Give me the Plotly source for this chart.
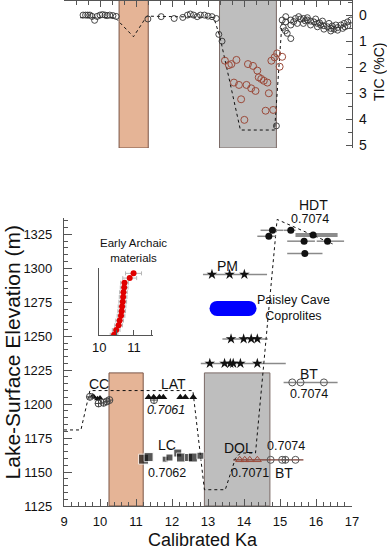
import plotly.graph_objects as go

FONT = "Arial, Liberation Sans, sans-serif"

# ---------------- Top panel: TIC (%C) ----------------
tic_black_x = [9.53, 9.60, 9.66, 9.72, 9.78, 9.85, 9.92, 10.0, 10.07, 10.14, 10.2, 10.27, 10.36, 10.45,
               11.33, 11.70, 12.06, 12.30, 12.43, 12.51, 12.60, 12.70, 12.79, 12.90, 13.00, 13.11, 13.23,
               13.30, 13.39, 14.90, 15.09, 15.15, 15.20, 15.30,
               15.06, 15.16, 15.30, 15.43, 15.57, 15.65, 15.76, 15.85, 15.94, 16.04, 16.13, 16.22, 16.32,
               16.41, 16.50, 16.60, 16.69, 16.78, 16.88, 16.97,
               15.30, 15.48, 15.65, 15.85, 16.04, 16.22, 16.41, 16.60, 16.74, 16.88,
               15.16, 15.52, 15.76, 15.99, 16.18, 16.36, 16.55, 15.38, 15.70, 16.10, 16.45, 16.80]
tic_black_y = [0.0, 0.0, 0.0, 0.0, 0.05, 0.2, 0.05, 0.0, -0.02, 0.0, 0.02, 0.0, 0.02, 0.05,
               0.15, 0.06, 0.13, 0.09, 0.0, -0.04, 0.0, 0.06, 0.0, 0.0, 0.04, 0.06, 0.13,
               0.74, 1.0, 4.25, 0.47, 0.6, 0.7, 0.9,
               0.19, 0.26, 0.19, 0.13, 0.15, 0.13, 0.19, 0.23, 0.26, 0.32, 0.38, 0.41, 0.45,
               0.51, 0.54, 0.48, 0.38, 0.32, 0.26, 0.19,
               0.38, 0.32, 0.32, 0.38, 0.45, 0.54, 0.61, 0.58, 0.51, 0.41,
               0.06, 0.06, 0.10, 0.15, 0.23, 0.32, 0.38, 0.25, 0.22, 0.30, 0.42, 0.45]
tic_brown_x = [13.47, 13.58, 13.65, 13.79, 13.72, 13.86, 13.92, 14.01, 14.11, 14.25, 14.37, 14.07,
               14.20, 14.32, 14.41, 14.48, 14.55, 14.65, 14.69, 14.60, 14.76, 14.81, 14.85, 14.92,
               14.99, 15.06]
tic_brown_y = [1.75, 1.92, 1.88, 1.72, 2.59, 2.68, 3.23, 4.02, 1.88, 1.95, 2.13, 2.68,
               2.81, 2.91, 2.39, 2.45, 2.52, 2.59, 3.0, 3.67, 1.75, 3.64, 1.62, 1.47,
               1.98, 1.6]
tic_model_x = [9.45, 10.42, 10.93, 11.3, 13.16, 13.33, 13.9, 14.85, 15.06]
tic_model_y = [0.1, 0.1, 0.83, 0.04, 0.09, 0.83, 4.41, 4.41, 0.19]

# shaded intervals (x0, x1) in each panel
top_orange = [10.53, 11.34]
top_gray = [13.32, 14.90]
bot_orange = [10.25, 11.20]
bot_gray = [12.90, 14.72]
band_top_elev = 1223
band_bottom_tic = 5.1

# ---------------- Bottom panel: lake level ----------------
lake_model_x = [9.0, 9.47, 9.72, 12.58, 12.9, 13.48, 13.76, 13.9, 14.32, 14.53, 14.92, 16.46]
lake_model_y = [1181, 1181, 1210, 1210, 1137, 1137, 1160, 1164, 1164, 1223, 1336, 1318]

hdt_x = [14.79, 15.30, 14.69, 15.67, 16.32, 15.69, 15.92]
hdt_y = [1328, 1328, 1323.6, 1320, 1320, 1311, 1324.6]
hdt_err_minus = [0.33, 0.20, 0.32, 0.47, 0.30, 0.49, 0.0]
hdt_err_plus = [0.30, 0.13, 0.19, 0.30, 0.46, 0.49, 0.0]
hdt_thick_range = [15.43, 16.60]

star_x = [13.11, 13.60, 14.01,
          13.64, 13.99, 14.20, 14.37,
          13.05, 13.46, 13.62, 13.70, 13.90, 14.37]
star_y = [1295.5] * 3 + [1248] * 4 + [1230] * 6
star_rows_y = [1295.5, 1248, 1230]
star_rows_lo = [12.86, 13.40, 12.80]
star_rows_hi = [14.64, 14.66, 15.16]

coprolite_x = [13.25, 14.14]
coprolite_y = [1270.5, 1270.5]

cc_tri_x = [9.80, 9.84, 9.93, 10.0]
cc_tri_y = [1206, 1205, 1204, 1204.5]
cc_circ_x = [9.72, 9.96, 10.10, 10.19, 10.26]
cc_circ_y = [1205.4, 1200.5, 1201, 1202, 1203]

lat_x = [11.35, 11.49, 11.65, 11.76, 12.23, 12.37, 12.59]
lat_y = [1205] * 7
lat_circ_x = [11.50]
lat_circ_y = [1203]

lc_x = [11.21, 11.35, 11.81, 11.93, 12.16, 12.25, 12.46, 12.58, 12.79]
lc_y = [1159.5, 1161, 1159.5, 1160.7, 1164, 1160.7, 1160.7, 1160.7, 1162]
lc_size = [10, 9, 6, 7, 8, 9, 8, 9, 7]

dol_x = [13.88, 14.02, 14.16, 14.37]
dol_y = [1159] * 4
bt_low_x = [14.74, 15.06, 15.15, 15.43]
bt_low_y = [1159] * 4
dol_bt_range = [13.70, 15.65]
dol_bt_elev = 1159

bt_up_x = [15.34, 15.57, 16.22]
bt_up_y = [1216] * 3
bt_up_range = [15.10, 16.60]

# inset: Early Archaic materials
ea_x = [10.43, 10.49, 10.56, 10.59, 10.63, 10.65, 10.66, 10.68, 10.69, 10.70, 10.72, 10.73, 10.88, 10.99]
ea_rank = list(range(1, 15))
ea_err = [0.11, 0.11, 0.11, 0.11, 0.11, 0.11, 0.11, 0.11, 0.11, 0.11, 0.11, 0.11, 0.2, 0.23]

labels = [
    ("HDT", 15.93, 1347, 14, False), ("0.7074", 15.83, 1336, 12.5, False),
    ("PM", 13.55, 1302, 14, False),
    ("CC", 9.98, 1215, 14, False), ("LAT", 12.04, 1215, 14, False),
    ("0.7061", 11.83, 1196, 12.5, True),
    ("LC", 11.86, 1170, 14, False), ("0.7062", 11.86, 1149, 12.5, False),
    ("DOL", 13.85, 1168, 14, False), ("0.7071", 14.18, 1149, 12.5, False),
    ("0.7074", 15.16, 1169, 12.5, False), ("BT", 15.10, 1149.6, 14, False),
    ("BT", 15.80, 1222, 14, False), ("0.7074", 15.80, 1207.5, 12.5, False),
    ("Paisley Cave<br>Coprolites", 15.37, 1271, 12.5, False),
]

ELEV_RANGE = [1125, 1337]
BOT_DOMAIN = [0, 0.569]

BLACK = "#111111"
BROWN = "#9B4A3A"
GRAYBAR = "#8a8a8a"

fig = go.Figure()

# ---- top panel traces
fig.add_trace(go.Scatter(x=tic_model_x, y=tic_model_y, mode="lines", xaxis="x2", yaxis="y2",
                         line=dict(color=BLACK, dash="dot", width=1)))
fig.add_trace(go.Scatter(x=tic_black_x, y=tic_black_y, mode="markers", xaxis="x2", yaxis="y2",
                         marker=dict(symbol="circle-open", size=6, color="#333333", line=dict(width=0.9))))
fig.add_trace(go.Scatter(x=tic_brown_x, y=tic_brown_y, mode="markers", xaxis="x2", yaxis="y2",
                         marker=dict(symbol="circle-open", size=7, color=BROWN, line=dict(width=1))))

# ---- bottom panel traces
def ranges(lo, hi, ys):
    xs, yy = [], []
    for a, b, y in zip(lo, hi, ys):
        xs += [a, b, None]
        yy += [y, y, None]
    return xs, yy

rx, ry = ranges(star_rows_lo, star_rows_hi, star_rows_y)
fig.add_trace(go.Scatter(x=rx, y=ry, mode="lines", line=dict(color=GRAYBAR, width=1.5)))
rx, ry = ranges([bt_up_range[0]], [bt_up_range[1]], [bt_up_y[0]])
fig.add_trace(go.Scatter(x=rx, y=ry, mode="lines", line=dict(color=GRAYBAR, width=1.5)))
rx, ry = ranges([dol_bt_range[0]], [dol_bt_range[1]], [dol_bt_elev])
fig.add_trace(go.Scatter(x=rx, y=ry, mode="lines", line=dict(color="#7a3a30", width=1.3)))
rx, ry = ranges([hdt_thick_range[0]], [hdt_thick_range[1]], [hdt_y[-1]])
fig.add_trace(go.Scatter(x=rx, y=ry, mode="lines", line=dict(color="#8c8c8c", width=4)))

fig.add_trace(go.Scatter(x=lake_model_x, y=lake_model_y, mode="lines",
                         line=dict(color=BLACK, dash="dot", width=1)))

fig.add_trace(go.Scatter(x=hdt_x, y=hdt_y, mode="markers",
                         marker=dict(symbol="circle", size=7, color=BLACK),
                         error_x=dict(type="data", array=hdt_err_plus, arrayminus=hdt_err_minus,
                                      symmetric=False, color=GRAYBAR, thickness=1.5, width=0)))
fig.add_trace(go.Scatter(x=star_x, y=star_y, mode="markers",
                         marker=dict(symbol="star", size=8, color=BLACK)))
fig.add_trace(go.Scatter(x=coprolite_x, y=coprolite_y, mode="lines+markers",
                         line=dict(color="#0000FF", width=15),
                         marker=dict(symbol="circle", size=15, color="#0000FF")))

fig.add_trace(go.Scatter(x=cc_tri_x, y=cc_tri_y, mode="markers",
                         marker=dict(symbol="triangle-up", size=6, color=BLACK)))
fig.add_trace(go.Scatter(x=cc_circ_x + lat_circ_x, y=cc_circ_y + lat_circ_y, mode="markers",
                         marker=dict(symbol="circle-cross-open", size=7, color="#444444", line=dict(width=1))))
fig.add_trace(go.Scatter(x=lat_x, y=lat_y, mode="markers",
                         marker=dict(symbol="triangle-up", size=7, color=BLACK)))
fig.add_trace(go.Scatter(x=lc_x, y=lc_y, mode="markers",
                         marker=dict(symbol="square", size=lc_size, color=BLACK)))
fig.add_trace(go.Scatter(x=dol_x, y=dol_y, mode="markers",
                         marker=dict(symbol="triangle-up-open", size=7, color=BROWN, line=dict(width=1))))
fig.add_trace(go.Scatter(x=bt_low_x, y=bt_low_y, mode="markers",
                         marker=dict(symbol=["circle-open", "circle-open", "circle-cross-open", "circle-open"],
                                     size=7, color="#555555", line=dict(width=1))))
fig.add_trace(go.Scatter(x=bt_up_x, y=bt_up_y, mode="markers",
                         marker=dict(symbol="circle-open", size=7, color="#555555", line=dict(width=1))))

# ---- inset
fig.add_trace(go.Scatter(x=ea_x, y=ea_rank, mode="markers", xaxis="x3", yaxis="y3",
                         marker=dict(symbol="circle", size=6, color="#E00000"),
                         error_x=dict(type="data", array=ea_err, color="#b5b5b5", thickness=1, width=2)))

shapes = []
for (x0, x1), fill, edge in [(top_orange, "#E5B496", "#7a5545"), (top_gray, "#BEBEBE", "#7a6a66")]:
    shapes.append(dict(type="rect", xref="x2", yref="y2", x0=x0, x1=x1, y0=-0.6, y1=band_bottom_tic,
                       fillcolor=fill, line=dict(color=edge, width=1), layer="below"))
for (x0, x1), fill, edge in [(bot_orange, "#E5B496", "#7a5545"), (bot_gray, "#BEBEBE", "#7a6a66")]:
    shapes.append(dict(type="rect", xref="x", yref="y", x0=x0, x1=x1, y0=1125, y1=band_top_elev,
                       fillcolor=fill, line=dict(color=edge, width=1), layer="below"))


def elev_to_paper(e):
    f = (e - ELEV_RANGE[0]) / (ELEV_RANGE[1] - ELEV_RANGE[0])
    return BOT_DOMAIN[0] + f * (BOT_DOMAIN[1] - BOT_DOMAIN[0])


annotations = []
for txt, x, y, sz, it in labels:
    annotations.append(dict(text=("<i>%s</i>" % txt) if it else txt, x=x, y=elev_to_paper(y),
                            xref="x", yref="paper", xanchor="center", yanchor="middle",
                            showarrow=False, font=dict(size=sz, color=BLACK, family=FONT)))
annotations.append(dict(text="Early Archaic<br>materials", x=0.241, y=0.505, xref="paper", yref="paper",
                        xanchor="center", yanchor="middle",
                        showarrow=False, font=dict(size=11.5, color=BLACK, family=FONT)))
annotations.append(dict(text="Lake-Surface Elevation (m)", x=-0.178, y=0.303, xref="paper", yref="paper",
                        xanchor="center", yanchor="middle",
                        textangle=-90, showarrow=False, font=dict(size=21, color=BLACK, family=FONT)))
annotations.append(dict(text="Calibrated Ka", x=12.85, y=-0.068, xref="x", yref="paper",
                        xanchor="center", yanchor="middle",
                        showarrow=False, font=dict(size=18, color=BLACK, family=FONT)))
annotations.append(dict(text="TIC (%C)", x=1.094, y=0.858, xref="paper", yref="paper",
                        xanchor="center", yanchor="middle",
                        textangle=-90, showarrow=False, font=dict(size=14, color=BLACK, family=FONT)))

AX = "#555555"
fig.update_layout(
    width=387, height=550, margin=dict(l=64, r=35, t=0, b=44, autoexpand=False),
    paper_bgcolor="white", plot_bgcolor="rgba(0,0,0,0)", showlegend=False,
    font=dict(family=FONT, color=BLACK, size=12),
    shapes=shapes, annotations=annotations,
    xaxis=dict(domain=[0, 1], anchor="y", range=[9, 17], tickvals=list(range(9, 18)), automargin=False,
               ticks="inside", ticklen=7, tickcolor=AX, showline=True, linecolor=AX, linewidth=1.2,
               showgrid=False, zeroline=False, tickfont=dict(size=13), ticklabelstandoff=3,
               minor=dict(dtick=0.2, tick0=9, ticks="inside", ticklen=3.5, tickcolor=AX, showgrid=False)),
    yaxis=dict(domain=BOT_DOMAIN, anchor="x", range=ELEV_RANGE, automargin=False,
               tickvals=[1125, 1150, 1175, 1200, 1225, 1250, 1275, 1300, 1325],
               ticks="inside", ticklen=8, tickcolor=AX, showline=True, linecolor=AX, linewidth=1.2,
               showgrid=False, zeroline=False, tickfont=dict(size=13), ticklabelstandoff=8,
               minor=dict(dtick=5, tick0=1125, ticks="inside", ticklen=4, tickcolor=AX, showgrid=False)),
    xaxis2=dict(domain=[0, 1], anchor="y2", side="top", range=[9, 17], tickvals=list(range(9, 18)),
                automargin=False,
                showticklabels=False, ticks="inside", ticklen=6, tickcolor=AX, showline=True, linecolor=AX,
                linewidth=1.2, showgrid=False, zeroline=False,
                minor=dict(dtick=1 / 3, tick0=9, ticks="inside", ticklen=3.5, tickcolor=AX, showgrid=False)),
    yaxis2=dict(domain=[0.7075, 0.998], anchor="x2", side="right", range=[5.1, -0.54], automargin=False,
                tickvals=[0, 1, 2, 3, 4, 5], ticks="inside", ticklen=6, tickcolor=AX, showline=True,
                linecolor=AX, linewidth=1.2, showgrid=False, zeroline=False, tickfont=dict(size=14),
                ticklabelstandoff=3,
                minor=dict(dtick=0.5, tick0=0, ticks="inside", ticklen=3.5, tickcolor=AX, showgrid=False)),
    xaxis3=dict(domain=[0.122, 0.309], anchor="y3", range=[10, 11.55], tickvals=[10, 10.5, 11, 11.5],
                automargin=False,
                ticktext=["10", "", "11", ""], ticks="inside", ticklen=5, tickcolor=AX, showline=True,
                linecolor=AX, linewidth=1.2, showgrid=False, zeroline=False, tickfont=dict(size=13)),
    yaxis3=dict(domain=[0.338, 0.470], anchor="x3", range=[0.95, 15.1], showticklabels=False,
                automargin=False,
                ticks="", showline=True, linecolor=AX, linewidth=1.2, showgrid=False, zeroline=False),
)

fig.write_html("out.html", config={"displayModeBar": False},
               post_script="document.body.style.margin='0';document.body.style.overflow='hidden';")
